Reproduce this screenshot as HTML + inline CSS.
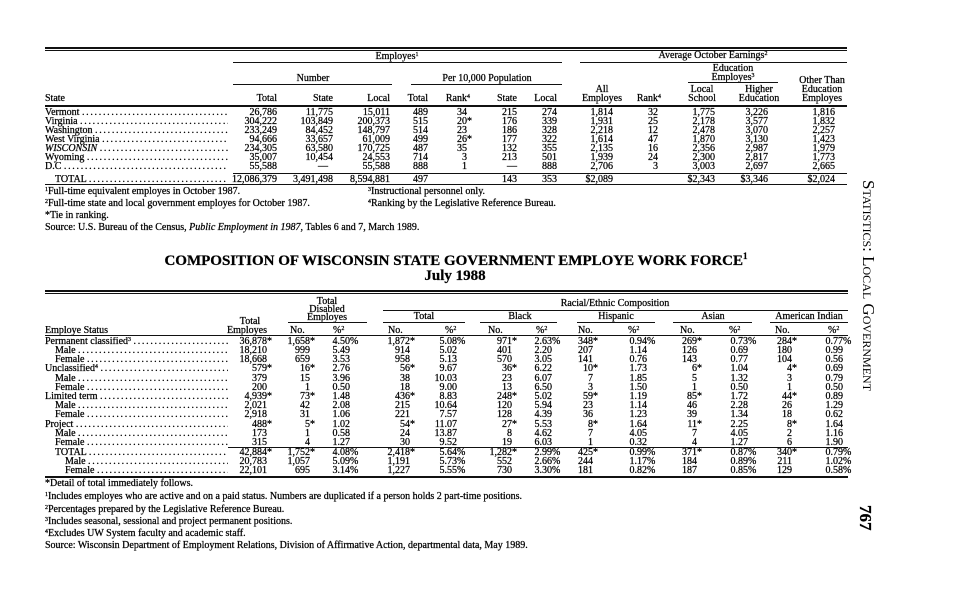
<!DOCTYPE html>
<html><head><meta charset="utf-8">
<style>
*{margin:0;padding:0}
body{width:964px;height:600px;background:#fff;position:relative;overflow:hidden;font-family:"Liberation Serif",serif;color:#000;font-size:10px;-webkit-text-stroke:0.25px #000}
.a{position:absolute;white-space:nowrap;line-height:10px}
.row{position:absolute;left:0;width:964px;height:10px;line-height:10px}
.r{position:absolute;top:0;width:80px;text-align:right;white-space:nowrap}
.r i{position:absolute;left:100%;font-style:normal}
.lab{position:absolute;top:0;left:45px;width:183px;overflow:hidden;white-space:nowrap}
.lab b{font-weight:normal;letter-spacing:1.7px}
.hl{position:absolute;background:#111}
.c{position:absolute;white-space:nowrap;line-height:9px;text-align:center;transform:translateX(-50%)}
sup{font-size:6px;vertical-align:3px;line-height:0}
.t1{left:197px}.t2{left:253px}.t3{left:310px}.t4{left:348px}.t5{left:387px}.t6{left:437px}.t7{left:477px}.t8{left:533px}.t9{left:578px}.t10{left:635px}.t11{left:688px}.t12{left:755px}
.b1{left:187px}.b2{left:230px}.b3{left:270px}.b4{left:330px}.b5{left:377px}.b6{left:432px}.b7{left:472px}.b8{left:513px}.b9{left:567px}.b10{left:617px}.b11{left:668px}.b12{left:712px}.b13{left:763px}
.fn{position:absolute;left:45px;white-space:nowrap;font-size:10px;line-height:10px}
</style></head><body>

<!-- TOP TABLE -->
<div class="hl" style="left:45px;top:47px;width:802px;height:2px"></div>
<div class="hl" style="left:45px;top:50px;width:802px;height:1px"></div>
<div class="c" style="left:397px;top:52px">Employes<sup>1</sup></div>
<div class="c" style="left:713px;top:51px">Average October Earnings<sup>2</sup></div>
<div class="hl" style="left:233px;top:62px;width:329px;height:1px"></div>
<div class="hl" style="left:580px;top:62px;width:267px;height:1px"></div>
<div class="c" style="left:733px;top:64px">Education</div>
<div class="c" style="left:733px;top:73px">Employes<sup>3</sup></div>
<div class="hl" style="left:688px;top:82px;width:90px;height:1px"></div>
<div class="c" style="left:313px;top:74px">Number</div>
<div class="c" style="left:487px;top:74px">Per 10,000 Population</div>
<div class="hl" style="left:233px;top:84px;width:159px;height:1px"></div>
<div class="hl" style="left:411px;top:84px;width:151px;height:1px"></div>
<div class="c" style="left:822px;top:76px">Other Than</div>
<div class="c" style="left:822px;top:85px">Education</div>
<div class="c" style="left:822px;top:94px">Employes</div>
<div class="c" style="left:602px;top:85px">All</div>
<div class="c" style="left:602px;top:94px">Employes</div>
<div class="c" style="left:702px;top:85px">Local</div>
<div class="c" style="left:702px;top:94px">School</div>
<div class="c" style="left:759px;top:85px">Higher</div>
<div class="c" style="left:759px;top:94px">Education</div>
<div class="row" style="top:94px">
<span class="lab">State</span>
<span class="r t1">Total</span><span class="r t2">State</span><span class="r t3">Local</span>
<span class="r t4">Total</span><span class="r t5">Rank<i><sup>4</sup></i></span>
<span class="r t6">State</span><span class="r t7">Local</span>
<span class="r t9">Rank<i><sup>4</sup></i></span>
</div>
<div class="hl" style="left:45px;top:105px;width:802px;height:1.5px"></div>

<div class="row" style="top:108px"><span class="lab">Vermont <b>..............................................</b></span>
<span class="r t1">26,786</span><span class="r t2">11,775</span><span class="r t3">15,011</span><span class="r t4">489</span><span class="r t5">34</span><span class="r t6">215</span><span class="r t7">274</span><span class="r t8">1,814</span><span class="r t9">32</span><span class="r t10">1,775</span><span class="r t11">3,226</span><span class="r t12">1,816</span></div>
<div class="row" style="top:117px"><span class="lab">Virginia <b>..............................................</b></span>
<span class="r t1">304,222</span><span class="r t2">103,849</span><span class="r t3">200,373</span><span class="r t4">515</span><span class="r t5">20<i>*</i></span><span class="r t6">176</span><span class="r t7">339</span><span class="r t8">1,931</span><span class="r t9">25</span><span class="r t10">2,178</span><span class="r t11">3,577</span><span class="r t12">1,832</span></div>
<div class="row" style="top:126px"><span class="lab">Washington <b>..............................................</b></span>
<span class="r t1">233,249</span><span class="r t2">84,452</span><span class="r t3">148,797</span><span class="r t4">514</span><span class="r t5">23</span><span class="r t6">186</span><span class="r t7">328</span><span class="r t8">2,218</span><span class="r t9">12</span><span class="r t10">2,478</span><span class="r t11">3,070</span><span class="r t12">2,257</span></div>
<div class="row" style="top:135px"><span class="lab">West Virginia <b>..............................................</b></span>
<span class="r t1">94,666</span><span class="r t2">33,657</span><span class="r t3">61,009</span><span class="r t4">499</span><span class="r t5">26<i>*</i></span><span class="r t6">177</span><span class="r t7">322</span><span class="r t8">1,614</span><span class="r t9">47</span><span class="r t10">1,870</span><span class="r t11">3,130</span><span class="r t12">1,423</span></div>
<div class="row" style="top:144px"><span class="lab"><em>WISCONSIN</em> <b>..............................................</b></span>
<span class="r t1">234,305</span><span class="r t2">63,580</span><span class="r t3">170,725</span><span class="r t4">487</span><span class="r t5">35</span><span class="r t6">132</span><span class="r t7">355</span><span class="r t8">2,135</span><span class="r t9">16</span><span class="r t10">2,356</span><span class="r t11">2,987</span><span class="r t12">1,979</span></div>
<div class="row" style="top:153px"><span class="lab">Wyoming <b>..............................................</b></span>
<span class="r t1">35,007</span><span class="r t2">10,454</span><span class="r t3">24,553</span><span class="r t4">714</span><span class="r t5">3</span><span class="r t6">213</span><span class="r t7">501</span><span class="r t8">1,939</span><span class="r t9">24</span><span class="r t10">2,300</span><span class="r t11">2,817</span><span class="r t12">1,773</span></div>
<div class="row" style="top:162px"><span class="lab">D.C <b>..............................................</b></span>
<span class="r t1">55,588</span><span class="r t2">—&nbsp;&nbsp;</span><span class="r t3">55,588</span><span class="r t4">888</span><span class="r t5">1</span><span class="r t6">—</span><span class="r t7">888</span><span class="r t8">2,706</span><span class="r t9">3</span><span class="r t10">3,003</span><span class="r t11">2,697</span><span class="r t12">2,665</span></div>
<div class="hl" style="left:233px;top:173px;width:614px;height:1px"></div>
<div class="row" style="top:175px"><span class="lab" style="left:55px;width:173px">TOTAL <b>..............................................</b></span>
<span class="r t1">12,086,379</span><span class="r t2">3,491,498</span><span class="r t3">8,594,881</span><span class="r t4">497</span><span class="r t6">143</span><span class="r t7">353</span><span class="r t8">$2,089</span><span class="r t10">$2,343</span><span class="r t11">$3,346</span><span class="r t12">$2,024</span></div>
<div class="hl" style="left:45px;top:184px;width:802px;height:1px"></div>

<div class="fn" style="top:187px"><sup>1</sup>Full-time equivalent employes in October 1987.</div>
<div class="fn" style="top:187px;left:368px"><sup>3</sup>Instructional personnel only.</div>
<div class="fn" style="top:199px"><sup>2</sup>Full-time state and local government employes for October 1987.</div>
<div class="fn" style="top:199px;left:368px"><sup>4</sup>Ranking by the Legislative Reference Bureau.</div>
<div class="fn" style="top:211px">*Tie in ranking.</div>
<div class="fn" style="top:223px">Source: U.S. Bureau of the Census, <i>Public Employment in 1987</i>, Tables 6 and 7, March 1989.</div>

<!-- TITLE -->
<div class="a" style="left:456px;top:253px;transform:translateX(-50%);font-weight:bold;font-size:15px;line-height:16px">COMPOSITION OF WISCONSIN STATE GOVERNMENT EMPLOYE WORK FORCE<sup style="font-size:9px;vertical-align:6px">1</sup></div>
<div class="a" style="left:455px;top:268px;transform:translateX(-50%);font-weight:bold;font-size:15px;line-height:16px">July 1988</div>

<!-- BOTTOM TABLE -->
<div class="hl" style="left:45px;top:290px;width:803px;height:2px"></div>
<div class="hl" style="left:45px;top:293px;width:803px;height:1px"></div>
<div class="c" style="left:327px;top:297px">Total</div>
<div class="c" style="left:327px;top:305px">Disabled</div>
<div class="c" style="left:327px;top:313px">Employes</div>
<div class="hl" style="left:288px;top:322px;width:79px;height:1px"></div>
<div class="c" style="left:615px;top:299px">Racial/Ethnic Composition</div>
<div class="hl" style="left:383px;top:310px;width:465px;height:1px"></div>
<div class="c" style="left:424px;top:312px">Total</div>
<div class="c" style="left:520px;top:312px">Black</div>
<div class="c" style="left:616px;top:312px">Hispanic</div>
<div class="c" style="left:713px;top:312px">Asian</div>
<div class="c" style="left:809px;top:312px">American Indian</div>
<div class="hl" style="left:383px;top:322px;width:82px;height:1px"></div>
<div class="hl" style="left:480px;top:322px;width:77px;height:1px"></div>
<div class="hl" style="left:577px;top:322px;width:78px;height:1px"></div>
<div class="hl" style="left:673px;top:322px;width:79px;height:1px"></div>
<div class="hl" style="left:770px;top:322px;width:78px;height:1px"></div>
<div class="c" style="left:250px;top:317px">Total</div>
<div class="row" style="top:326px"><span class="lab">Employe Status</span>
<span class="r b1">Employes</span>
<span class="a" style="left:290px">No.</span><span class="a" style="left:333px">%<sup>2</sup></span>
<span class="a" style="left:388px">No.</span><span class="a" style="left:445px">%<sup>2</sup></span>
<span class="a" style="left:488px">No.</span><span class="a" style="left:536px">%<sup>2</sup></span>
<span class="a" style="left:578px">No.</span><span class="a" style="left:628px">%<sup>2</sup></span>
<span class="a" style="left:680px">No.</span><span class="a" style="left:729px">%<sup>2</sup></span>
<span class="a" style="left:775px">No.</span><span class="a" style="left:828px">%<sup>2</sup></span>
</div>
<div class="hl" style="left:45px;top:335px;width:803px;height:1px"></div>

<div class="row" style="top:337px"><span class="lab">Permanent classified<sup>3</sup> <b>..............................................</b></span>
<span class="r b1">36,878<i>*</i></span><span class="r b2">1,658<i>*</i></span><span class="r b3">4.50<i>%</i></span><span class="r b4">1,872<i>*</i></span><span class="r b5">5.08<i>%</i></span><span class="r b6">971<i>*</i></span><span class="r b7">2.63<i>%</i></span><span class="r b8">348<i>*</i></span><span class="r b9">0.94<i>%</i></span><span class="r b10">269<i>*</i></span><span class="r b11">0.73<i>%</i></span><span class="r b12">284<i>*</i></span><span class="r b13">0.77<i>%</i></span></div>
<div class="row" style="top:346px"><span class="lab" style="left:55px;width:173px">Male <b>..............................................</b></span>
<span class="r b1">18,210</span><span class="r b2">999</span><span class="r b3">5.49</span><span class="r b4">914</span><span class="r b5">5.02</span><span class="r b6">401</span><span class="r b7">2.20</span><span class="r b8">207</span><span class="r b9">1.14</span><span class="r b10">126</span><span class="r b11">0.69</span><span class="r b12">180</span><span class="r b13">0.99</span></div>
<div class="row" style="top:355px"><span class="lab" style="left:55px;width:173px">Female <b>..............................................</b></span>
<span class="r b1">18,668</span><span class="r b2">659</span><span class="r b3">3.53</span><span class="r b4">958</span><span class="r b5">5.13</span><span class="r b6">570</span><span class="r b7">3.05</span><span class="r b8">141</span><span class="r b9">0.76</span><span class="r b10">143</span><span class="r b11">0.77</span><span class="r b12">104</span><span class="r b13">0.56</span></div>
<div class="row" style="top:364px"><span class="lab">Unclassified<sup>4</sup> <b>..............................................</b></span>
<span class="r b1">579<i>*</i></span><span class="r b2">16<i>*</i></span><span class="r b3">2.76</span><span class="r b4">56<i>*</i></span><span class="r b5">9.67</span><span class="r b6">36<i>*</i></span><span class="r b7">6.22</span><span class="r b8">10<i>*</i></span><span class="r b9">1.73</span><span class="r b10">6<i>*</i></span><span class="r b11">1.04</span><span class="r b12">4<i>*</i></span><span class="r b13">0.69</span></div>
<div class="row" style="top:374px"><span class="lab" style="left:55px;width:173px">Male <b>..............................................</b></span>
<span class="r b1">379</span><span class="r b2">15</span><span class="r b3">3.96</span><span class="r b4">38</span><span class="r b5">10.03</span><span class="r b6">23</span><span class="r b7">6.07</span><span class="r b8">7</span><span class="r b9">1.85</span><span class="r b10">5</span><span class="r b11">1.32</span><span class="r b12">3</span><span class="r b13">0.79</span></div>
<div class="row" style="top:383px"><span class="lab" style="left:55px;width:173px">Female <b>..............................................</b></span>
<span class="r b1">200</span><span class="r b2">1</span><span class="r b3">0.50</span><span class="r b4">18</span><span class="r b5">9.00</span><span class="r b6">13</span><span class="r b7">6.50</span><span class="r b8">3</span><span class="r b9">1.50</span><span class="r b10">1</span><span class="r b11">0.50</span><span class="r b12">1</span><span class="r b13">0.50</span></div>
<div class="row" style="top:392px"><span class="lab">Limited term <b>..............................................</b></span>
<span class="r b1">4,939<i>*</i></span><span class="r b2">73<i>*</i></span><span class="r b3">1.48</span><span class="r b4">436<i>*</i></span><span class="r b5">8.83</span><span class="r b6">248<i>*</i></span><span class="r b7">5.02</span><span class="r b8">59<i>*</i></span><span class="r b9">1.19</span><span class="r b10">85<i>*</i></span><span class="r b11">1.72</span><span class="r b12">44<i>*</i></span><span class="r b13">0.89</span></div>
<div class="row" style="top:401px"><span class="lab" style="left:55px;width:173px">Male <b>..............................................</b></span>
<span class="r b1">2,021</span><span class="r b2">42</span><span class="r b3">2.08</span><span class="r b4">215</span><span class="r b5">10.64</span><span class="r b6">120</span><span class="r b7">5.94</span><span class="r b8">23</span><span class="r b9">1.14</span><span class="r b10">46</span><span class="r b11">2.28</span><span class="r b12">26</span><span class="r b13">1.29</span></div>
<div class="row" style="top:410px"><span class="lab" style="left:55px;width:173px">Female <b>..............................................</b></span>
<span class="r b1">2,918</span><span class="r b2">31</span><span class="r b3">1.06</span><span class="r b4">221</span><span class="r b5">7.57</span><span class="r b6">128</span><span class="r b7">4.39</span><span class="r b8">36</span><span class="r b9">1.23</span><span class="r b10">39</span><span class="r b11">1.34</span><span class="r b12">18</span><span class="r b13">0.62</span></div>
<div class="row" style="top:420px"><span class="lab">Project <b>..............................................</b></span>
<span class="r b1">488<i>*</i></span><span class="r b2">5<i>*</i></span><span class="r b3">1.02</span><span class="r b4">54<i>*</i></span><span class="r b5">11.07</span><span class="r b6">27<i>*</i></span><span class="r b7">5.53</span><span class="r b8">8<i>*</i></span><span class="r b9">1.64</span><span class="r b10">11<i>*</i></span><span class="r b11">2.25</span><span class="r b12">8<i>*</i></span><span class="r b13">1.64</span></div>
<div class="row" style="top:429px"><span class="lab" style="left:55px;width:173px">Male <b>..............................................</b></span>
<span class="r b1">173</span><span class="r b2">1</span><span class="r b3">0.58</span><span class="r b4">24</span><span class="r b5">13.87</span><span class="r b6">8</span><span class="r b7">4.62</span><span class="r b8">7</span><span class="r b9">4.05</span><span class="r b10">7</span><span class="r b11">4.05</span><span class="r b12">2</span><span class="r b13">1.16</span></div>
<div class="row" style="top:438px"><span class="lab" style="left:55px;width:173px">Female <b>..............................................</b></span>
<span class="r b1">315</span><span class="r b2">4</span><span class="r b3">1.27</span><span class="r b4">30</span><span class="r b5">9.52</span><span class="r b6">19</span><span class="r b7">6.03</span><span class="r b8">1</span><span class="r b9">0.32</span><span class="r b10">4</span><span class="r b11">1.27</span><span class="r b12">6</span><span class="r b13">1.90</span></div>
<div class="hl" style="left:228px;top:447px;width:620px;height:1px"></div>
<div class="row" style="top:448px"><span class="lab" style="left:55px;width:173px">TOTAL <b>..............................................</b></span>
<span class="r b1">42,884<i>*</i></span><span class="r b2">1,752<i>*</i></span><span class="r b3">4.08<i>%</i></span><span class="r b4">2,418<i>*</i></span><span class="r b5">5.64<i>%</i></span><span class="r b6">1,282<i>*</i></span><span class="r b7">2.99<i>%</i></span><span class="r b8">425<i>*</i></span><span class="r b9">0.99<i>%</i></span><span class="r b10">371<i>*</i></span><span class="r b11">0.87<i>%</i></span><span class="r b12">340<i>*</i></span><span class="r b13">0.79<i>%</i></span></div>
<div class="row" style="top:457px"><span class="lab" style="left:65px;width:163px">Male <b>..............................................</b></span>
<span class="r b1">20,783</span><span class="r b2">1,057</span><span class="r b3">5.09<i>%</i></span><span class="r b4">1,191</span><span class="r b5">5.73<i>%</i></span><span class="r b6">552</span><span class="r b7">2.66<i>%</i></span><span class="r b8">244</span><span class="r b9">1.17<i>%</i></span><span class="r b10">184</span><span class="r b11">0.89<i>%</i></span><span class="r b12">211</span><span class="r b13">1.02<i>%</i></span></div>
<div class="row" style="top:466px"><span class="lab" style="left:65px;width:163px">Female <b>..............................................</b></span>
<span class="r b1">22,101</span><span class="r b2">695</span><span class="r b3">3.14<i>%</i></span><span class="r b4">1,227</span><span class="r b5">5.55<i>%</i></span><span class="r b6">730</span><span class="r b7">3.30<i>%</i></span><span class="r b8">181</span><span class="r b9">0.82<i>%</i></span><span class="r b10">187</span><span class="r b11">0.85<i>%</i></span><span class="r b12">129</span><span class="r b13">0.58<i>%</i></span></div>
<div class="hl" style="left:45px;top:476px;width:803px;height:1.5px"></div>

<div class="fn" style="top:479px">*Detail of total immediately follows.</div>
<div class="fn" style="top:492px"><sup>1</sup>Includes employes who are active and on a paid status. Numbers are duplicated if a person holds 2 part-time positions.</div>
<div class="fn" style="top:505px"><sup>2</sup>Percentages prepared by the Legislative Reference Bureau.</div>
<div class="fn" style="top:517px"><sup>3</sup>Includes seasonal, sessional and project permanent positions.</div>
<div class="fn" style="top:529px"><sup>4</sup>Excludes UW System faculty and academic staff.</div>
<div class="fn" style="top:541px">Source: Wisconsin Department of Employment Relations, Division of Affirmative Action, departmental data, May 1989.</div>

<!-- SIDE -->
<div class="a" style="left:877px;top:180px;transform-origin:0 0;transform:rotate(90deg);font-size:17px;line-height:18px;font-variant:small-caps;-webkit-text-stroke:0">Statistics: Local Government</div>
<div class="a" style="left:874px;top:505px;transform-origin:0 0;transform:rotate(90deg);font-size:17px;line-height:18px;font-weight:bold">767</div>
</body></html>
